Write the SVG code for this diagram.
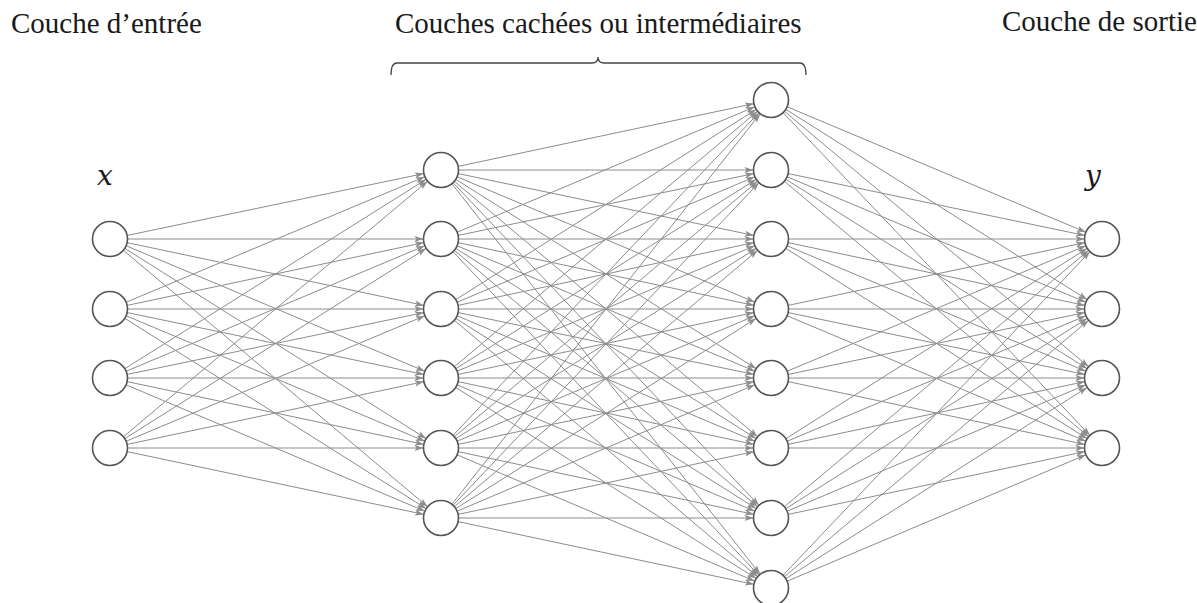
<svg xmlns="http://www.w3.org/2000/svg" width="1197" height="603" viewBox="0 0 1197 603">
  <style>
    .lbl { font-family: "Liberation Serif", "Times New Roman", serif; font-size: 29px; fill: #1a1a1a; }
    .var { font-family: "DejaVu Serif", "Liberation Serif", serif; font-style: italic; font-size: 28px; fill: #1a1a1a; }
    .edges line { stroke: #8c8c8c; stroke-width: 1; marker-end: url(#arr); }
    .node circle { fill: #ffffff; stroke: #555555; stroke-width: 1.6; }
    .brace { fill: none; stroke: #444444; stroke-width: 1.3; }
  </style>
  <defs>
    <!-- arrow tip sits on the rim of the target circle (r = 17.5) -->
    <marker id="arr" markerUnits="userSpaceOnUse" viewBox="0 -5 32 10" markerWidth="32" markerHeight="10" refX="29.5" refY="0" orient="auto" overflow="visible">
      <path d="M3,-3 L12,0 L3,3 L5,0 Z" fill="#8c8c8c"/>
    </marker>
  </defs>
  <rect width="1197" height="603" fill="#ffffff"/>

  <text class="lbl" x="11" y="33">Couche d’entrée</text>
  <text class="lbl" x="395" y="33">Couches cachées ou intermédiaires</text>
  <text class="lbl" x="1002" y="31">Couche de sortie</text>
  <path class="brace" d="M391,75 Q391,63 397,63 L592,63 Q598,63 598,57 Q598,63 604,63 L800,63 Q806,63 806,75"/>
  <text class="var" x="97" y="185">x</text>
  <text class="var" x="1085" y="185">y</text>

  <g class="edges">
    <!-- input to first hidden layer -->
    <line x1="110" y1="239" x2="441" y2="170"/><line x1="110" y1="239" x2="441" y2="239"/><line x1="110" y1="239" x2="441" y2="309"/><line x1="110" y1="239" x2="441" y2="378"/><line x1="110" y1="239" x2="441" y2="448"/><line x1="110" y1="239" x2="441" y2="518"/>
    <line x1="110" y1="309" x2="441" y2="170"/><line x1="110" y1="309" x2="441" y2="239"/><line x1="110" y1="309" x2="441" y2="309"/><line x1="110" y1="309" x2="441" y2="378"/><line x1="110" y1="309" x2="441" y2="448"/><line x1="110" y1="309" x2="441" y2="518"/>
    <line x1="110" y1="378" x2="441" y2="170"/><line x1="110" y1="378" x2="441" y2="239"/><line x1="110" y1="378" x2="441" y2="309"/><line x1="110" y1="378" x2="441" y2="378"/><line x1="110" y1="378" x2="441" y2="448"/><line x1="110" y1="378" x2="441" y2="518"/>
    <line x1="110" y1="448" x2="441" y2="170"/><line x1="110" y1="448" x2="441" y2="239"/><line x1="110" y1="448" x2="441" y2="309"/><line x1="110" y1="448" x2="441" y2="378"/><line x1="110" y1="448" x2="441" y2="448"/><line x1="110" y1="448" x2="441" y2="518"/>
    <!-- first hidden to second hidden layer -->
    <line x1="441" y1="170" x2="771" y2="100"/><line x1="441" y1="170" x2="771" y2="170"/><line x1="441" y1="170" x2="771" y2="239"/><line x1="441" y1="170" x2="771" y2="309"/><line x1="441" y1="170" x2="771" y2="378"/><line x1="441" y1="170" x2="771" y2="448"/><line x1="441" y1="170" x2="771" y2="518"/><line x1="441" y1="170" x2="771" y2="588"/>
    <line x1="441" y1="239" x2="771" y2="100"/><line x1="441" y1="239" x2="771" y2="170"/><line x1="441" y1="239" x2="771" y2="239"/><line x1="441" y1="239" x2="771" y2="309"/><line x1="441" y1="239" x2="771" y2="378"/><line x1="441" y1="239" x2="771" y2="448"/><line x1="441" y1="239" x2="771" y2="518"/><line x1="441" y1="239" x2="771" y2="588"/>
    <line x1="441" y1="309" x2="771" y2="100"/><line x1="441" y1="309" x2="771" y2="170"/><line x1="441" y1="309" x2="771" y2="239"/><line x1="441" y1="309" x2="771" y2="309"/><line x1="441" y1="309" x2="771" y2="378"/><line x1="441" y1="309" x2="771" y2="448"/><line x1="441" y1="309" x2="771" y2="518"/><line x1="441" y1="309" x2="771" y2="588"/>
    <line x1="441" y1="378" x2="771" y2="100"/><line x1="441" y1="378" x2="771" y2="170"/><line x1="441" y1="378" x2="771" y2="239"/><line x1="441" y1="378" x2="771" y2="309"/><line x1="441" y1="378" x2="771" y2="378"/><line x1="441" y1="378" x2="771" y2="448"/><line x1="441" y1="378" x2="771" y2="518"/><line x1="441" y1="378" x2="771" y2="588"/>
    <line x1="441" y1="448" x2="771" y2="100"/><line x1="441" y1="448" x2="771" y2="170"/><line x1="441" y1="448" x2="771" y2="239"/><line x1="441" y1="448" x2="771" y2="309"/><line x1="441" y1="448" x2="771" y2="378"/><line x1="441" y1="448" x2="771" y2="448"/><line x1="441" y1="448" x2="771" y2="518"/><line x1="441" y1="448" x2="771" y2="588"/>
    <line x1="441" y1="518" x2="771" y2="100"/><line x1="441" y1="518" x2="771" y2="170"/><line x1="441" y1="518" x2="771" y2="239"/><line x1="441" y1="518" x2="771" y2="309"/><line x1="441" y1="518" x2="771" y2="378"/><line x1="441" y1="518" x2="771" y2="448"/><line x1="441" y1="518" x2="771" y2="518"/><line x1="441" y1="518" x2="771" y2="588"/>
    <!-- second hidden layer to output -->
    <line x1="771" y1="100" x2="1102" y2="239"/><line x1="771" y1="100" x2="1102" y2="309"/><line x1="771" y1="100" x2="1102" y2="378"/><line x1="771" y1="100" x2="1102" y2="448"/>
    <line x1="771" y1="170" x2="1102" y2="239"/><line x1="771" y1="170" x2="1102" y2="309"/><line x1="771" y1="170" x2="1102" y2="378"/><line x1="771" y1="170" x2="1102" y2="448"/>
    <line x1="771" y1="239" x2="1102" y2="239"/><line x1="771" y1="239" x2="1102" y2="309"/><line x1="771" y1="239" x2="1102" y2="378"/><line x1="771" y1="239" x2="1102" y2="448"/>
    <line x1="771" y1="309" x2="1102" y2="239"/><line x1="771" y1="309" x2="1102" y2="309"/><line x1="771" y1="309" x2="1102" y2="378"/><line x1="771" y1="309" x2="1102" y2="448"/>
    <line x1="771" y1="378" x2="1102" y2="239"/><line x1="771" y1="378" x2="1102" y2="309"/><line x1="771" y1="378" x2="1102" y2="378"/><line x1="771" y1="378" x2="1102" y2="448"/>
    <line x1="771" y1="448" x2="1102" y2="239"/><line x1="771" y1="448" x2="1102" y2="309"/><line x1="771" y1="448" x2="1102" y2="378"/><line x1="771" y1="448" x2="1102" y2="448"/>
    <line x1="771" y1="518" x2="1102" y2="239"/><line x1="771" y1="518" x2="1102" y2="309"/><line x1="771" y1="518" x2="1102" y2="378"/><line x1="771" y1="518" x2="1102" y2="448"/>
    <line x1="771" y1="588" x2="1102" y2="239"/><line x1="771" y1="588" x2="1102" y2="309"/><line x1="771" y1="588" x2="1102" y2="378"/><line x1="771" y1="588" x2="1102" y2="448"/>
  </g>

  <!-- input layer -->
  <g id="in1" class="node"><circle cx="110" cy="239" r="17.5"/></g>
  <g id="in2" class="node"><circle cx="110" cy="309" r="17.5"/></g>
  <g id="in3" class="node"><circle cx="110" cy="378" r="17.5"/></g>
  <g id="in4" class="node"><circle cx="110" cy="448" r="17.5"/></g>
  <!-- first hidden layer -->
  <g id="h1a" class="node"><circle cx="441" cy="170" r="17.5"/></g>
  <g id="h1b" class="node"><circle cx="441" cy="239" r="17.5"/></g>
  <g id="h1c" class="node"><circle cx="441" cy="309" r="17.5"/></g>
  <g id="h1d" class="node"><circle cx="441" cy="378" r="17.5"/></g>
  <g id="h1e" class="node"><circle cx="441" cy="448" r="17.5"/></g>
  <g id="h1f" class="node"><circle cx="441" cy="518" r="17.5"/></g>
  <!-- second hidden layer -->
  <g id="h2a" class="node"><circle cx="771" cy="100" r="17.5"/></g>
  <g id="h2b" class="node"><circle cx="771" cy="170" r="17.5"/></g>
  <g id="h2c" class="node"><circle cx="771" cy="239" r="17.5"/></g>
  <g id="h2d" class="node"><circle cx="771" cy="309" r="17.5"/></g>
  <g id="h2e" class="node"><circle cx="771" cy="378" r="17.5"/></g>
  <g id="h2f" class="node"><circle cx="771" cy="448" r="17.5"/></g>
  <g id="h2g" class="node"><circle cx="771" cy="518" r="17.5"/></g>
  <g id="h2h" class="node"><circle cx="771" cy="588" r="17.5"/></g>
  <!-- output layer -->
  <g id="out1" class="node"><circle cx="1102" cy="239" r="17.5"/></g>
  <g id="out2" class="node"><circle cx="1102" cy="309" r="17.5"/></g>
  <g id="out3" class="node"><circle cx="1102" cy="378" r="17.5"/></g>
  <g id="out4" class="node"><circle cx="1102" cy="448" r="17.5"/></g>
</svg>
